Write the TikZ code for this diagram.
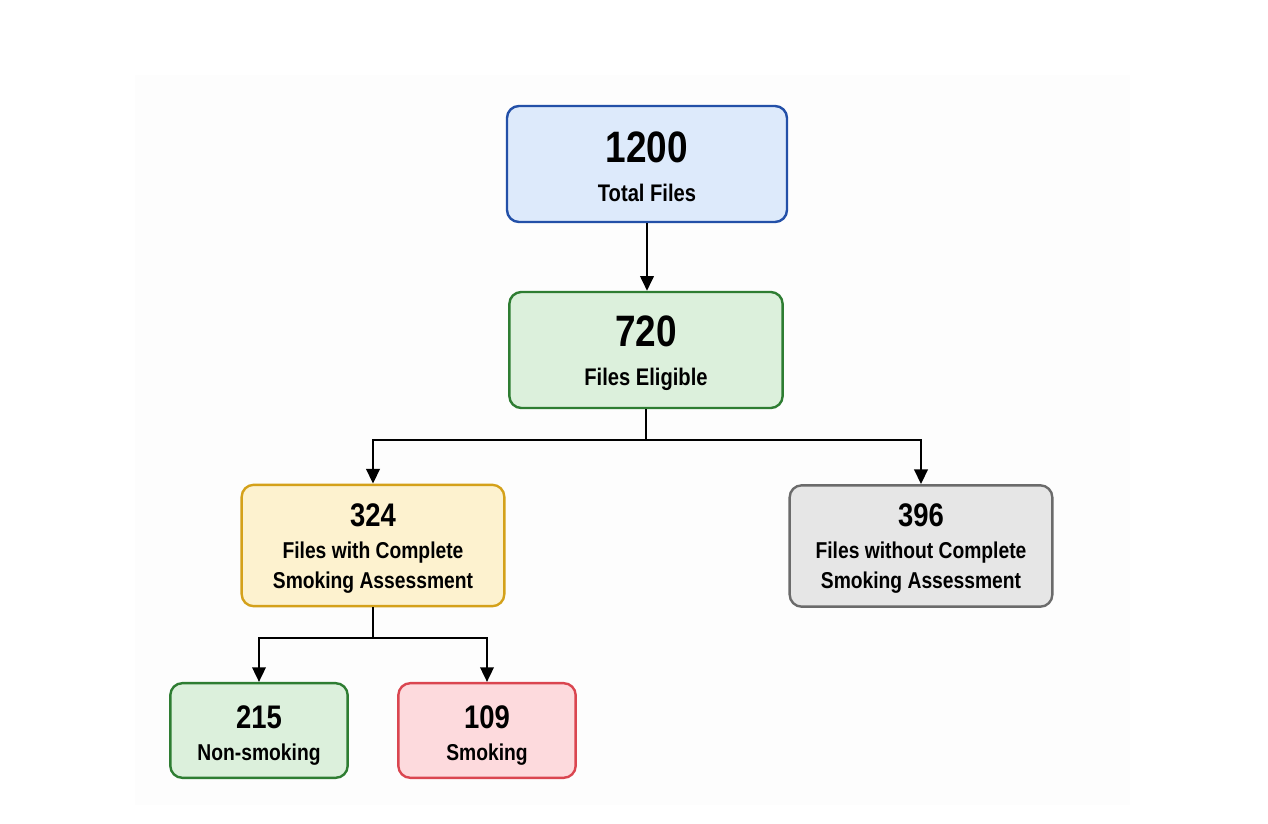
\documentclass[tikz,border=0pt]{standalone}
\usepackage{fontspec}
\setmainfont{Liberation Sans}[BoldFeatures={FakeStretch=0.84}]
\usetikzlibrary{arrows.meta}
\definecolor{bluefill}{HTML}{DDEAFB}
\definecolor{blueline}{HTML}{2350A8}
\definecolor{greenfill}{HTML}{DCF0DC}
\definecolor{greenline}{HTML}{2E7D32}
\definecolor{yellowfill}{HTML}{FDF2CF}
\definecolor{yellowline}{HTML}{D4A11A}
\definecolor{grayfill}{HTML}{E6E6E6}
\definecolor{grayline}{HTML}{6B6B6B}
\definecolor{redfill}{HTML}{FDDADD}
\definecolor{redline}{HTML}{DA4650}
\definecolor{bgpanel}{HTML}{FDFDFD}
\newcommand{\bignum}[1]{{\fontsize{33}{33}\selectfont #1}}
\newcommand{\midnum}[1]{{\fontsize{24.5}{24.5}\selectfont #1}}
\tikzset{
  box/.style={draw, rounded corners=9pt, line width=1.8pt, inner sep=0pt},
  bigbox/.style={box, minimum width=210pt, minimum height=87pt},
  midbox/.style={box, minimum width=197pt, minimum height=91pt},
  smallbox/.style={box, minimum width=133pt, minimum height=71pt},
  bigtxt/.style={align=center, inner sep=0pt, font=\bfseries\fontsize{18}{22.5}\selectfont},
  midtxt/.style={align=center, inner sep=0pt, font=\bfseries\fontsize{17.2}{22.5}\selectfont},
  conn/.style={line width=1.9pt, black},
  arr/.style={conn, -{Stealth[length=11pt, width=10pt, inset=0pt]}},
}
\begin{document}
\begin{tikzpicture}[x=0.75pt, y=-0.75pt]
\useasboundingbox (0,0) rectangle (1268,824);
\fill[bgpanel] (135,75) rectangle (1130,805);
\node[bigbox, fill=bluefill, draw=blueline] (total) at (647,164) {};
\node[bigtxt] (totaltxt) at ([yshift=-2.25pt]total.center)
  {\bignum{1200}\\[7pt]Total Files};
\node[bigbox, fill=greenfill, draw=greenline, minimum width=205pt] (elig) at (646,350) {};
\node[bigtxt] (eligtxt) at ([yshift=-2.25pt]elig.center)
  {\bignum{720}\\[7pt]Files Eligible};
\node[midbox, fill=yellowfill, draw=yellowline] (comp) at (373,545.5) {};
\node[midtxt] (comptxt) at ([yshift=-2.25pt]comp.center)
  {\midnum{324}\\[1.5pt]Files with Complete\\Smoking Assessment};
\node[midbox, fill=grayfill, draw=grayline] (incomp) at (921,546) {};
\node[midtxt] (incomptxt) at ([yshift=-2.25pt]incomp.center)
  {\midnum{396}\\[1.5pt]Files without Complete\\Smoking Assessment};
\node[smallbox, fill=greenfill, draw=greenline] (non) at (259,730.5) {};
\node[midtxt] (nontxt) at ([yshift=-3.75pt]non.center)
  {\midnum{215}\\[2pt]Non-smoking};
\node[smallbox, fill=redfill, draw=redline] (smk) at (487,730.5) {};
\node[midtxt] (smktxt) at ([yshift=-3.75pt]smk.center)
  {\midnum{109}\\[2pt]Smoking};
\coordinate (j1) at (646,440);
\coordinate (j2) at (373,638);
\draw[arr] (total.south) -- (total.south |- elig.north);
\draw[conn] (elig.south) -- (j1);
\draw[arr] (j1) -| (comp.north);
\draw[arr] (j1) -| (incomp.north);
\draw[conn] (comp.south) -- (j2);
\draw[arr] (j2) -| (non.north);
\draw[arr] (j2) -| (smk.north);
\end{tikzpicture}
\end{document}
